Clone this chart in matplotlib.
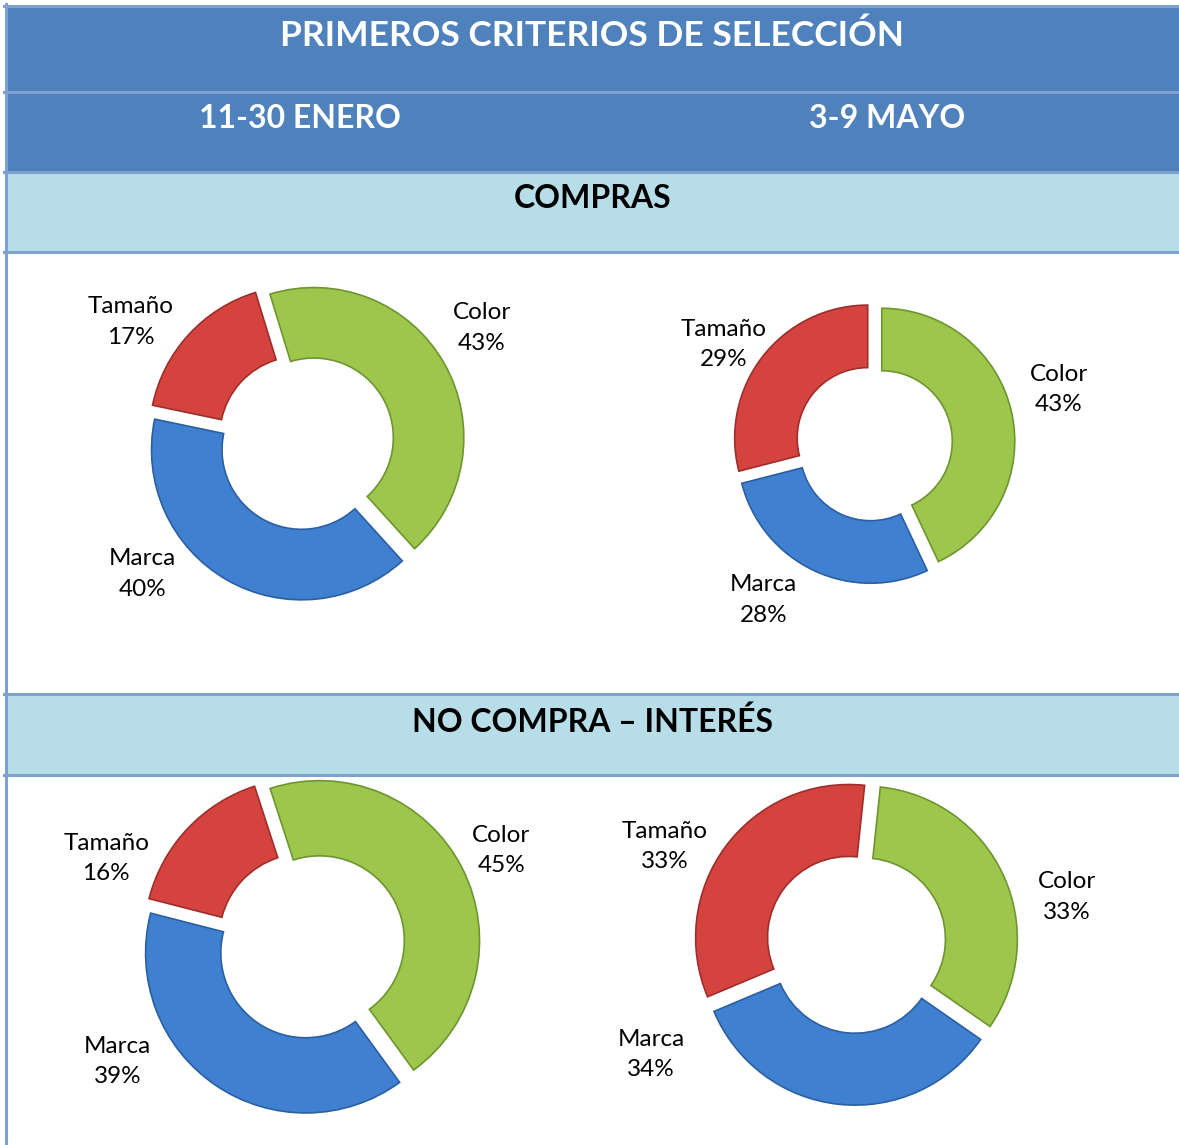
import matplotlib
matplotlib.use("Agg")
import matplotlib.pyplot as plt
from matplotlib.patches import Rectangle

plt.rcParams['font.family'] = ['Lato', 'DejaVu Sans']

# Data
CATEGORIES = ["Color", "Marca", "Tamaño"]
COMPRAS_ENERO = [43, 40, 17]
COMPRAS_MAYO = [43, 28, 29]
NOCOMPRA_ENERO = [45, 39, 16]
NOCOMPRA_MAYO = [33, 34, 33]

TITLE = "PRIMEROS CRITERIOS DE SELECCIÓN"
PERIODS = ["11-30 ENERO", "3-9 MAYO"]
SECTIONS = ["COMPRAS", "NO COMPRA – INTERÉS"]

COLORS = ["#9CC64C", "#3F80D0", "#D5433F"]
EDGES = ["#6F9530", "#2B5FA0", "#9E2E2B"]

W, H = 1179, 1145
DARK = "#4F81BD"
LIGHT = "#B7DDE8"
LINE = "#7FA1D2"

fig = plt.figure(figsize=(W / 100, H / 100), dpi=100)
bg = fig.add_axes([0, 0, 1, 1])
bg.set_xlim(0, W)
bg.set_ylim(H, 0)
bg.axis("off")

# header and section bands (pixel layout)
bg.add_patch(Rectangle((6, 6), W, 166, color=DARK, zorder=0))
bg.add_patch(Rectangle((6, 172), W, 80, color=LIGHT, zorder=0))
bg.add_patch(Rectangle((6, 694), W, 81, color=LIGHT, zorder=0))
for y in [6, 92, 172, 252, 694, 775]:
    bg.plot([4, W], [y, y], color=LINE, lw=2.2, zorder=1)
bg.plot([6, 6], [4, H], color=LINE, lw=2.2, zorder=1)

bg.text(592, 36, TITLE, color="white", fontsize=25.5, fontweight="bold",
        ha="center", va="center")
bg.text(300, 119, PERIODS[0], color="white", fontsize=23, fontweight="bold",
        ha="center", va="center")
bg.text(887, 119, PERIODS[1], color="white", fontsize=23, fontweight="bold",
        ha="center", va="center")
bg.text(593, 199, SECTIONS[0], color="black", fontsize=23, fontweight="bold",
        ha="center", va="center")
bg.text(593, 722, SECTIONS[1], color="black", fontsize=23, fontweight="bold",
        ha="center", va="center")

# pie layout: center x, center y, radius (px), start angle, label offsets
PIES = [
    (COMPRAS_ENERO, 306, 442, 150, 107,
     [(1.17, 0.76), (-1.09, -0.88), (-1.17, 0.80)]),
    (COMPRAS_MAYO, 874, 443, 133, 90,
     [(1.39, 0.40), (-0.83, -1.18), (-1.13, 0.74)]),
    (NOCOMPRA_ENERO, 311, 945, 160, 108,
     [(1.19, 0.59), (-1.21, -0.73), (-1.28, 0.54)]),
    (NOCOMPRA_MAYO, 856, 943, 153, 84,
     [(1.38, 0.30), (-1.34, -0.73), (-1.25, 0.63)]),
]

LIM = 1.6
for values, cx, cy, r, start, offsets in PIES:
    half = r * LIM
    ax = fig.add_axes([(cx - half) / W, 1 - (cy + half) / H, 2 * half / W, 2 * half / H])
    wedges, _ = ax.pie(values, colors=COLORS, startangle=start, counterclock=False,
                       explode=[0.06] * 3, radius=1.0,
                       wedgeprops=dict(width=0.47, linewidth=1.2))
    ax.set_xlim(-LIM, LIM)
    ax.set_ylim(-LIM, LIM)
    ax.set_aspect("equal")
    ax.axis("off")
    for w, ec in zip(wedges, EDGES):
        w.set_edgecolor(ec)
    total = sum(values)
    for cat, v, (lx, ly) in zip(CATEGORIES, values, offsets):
        ax.text(lx, ly, f"{cat}\n{round(100 * v / total)}%", ha="center", va="center",
                fontsize=17.5, linespacing=1.55)

fig.savefig("out.png", dpi=100)
